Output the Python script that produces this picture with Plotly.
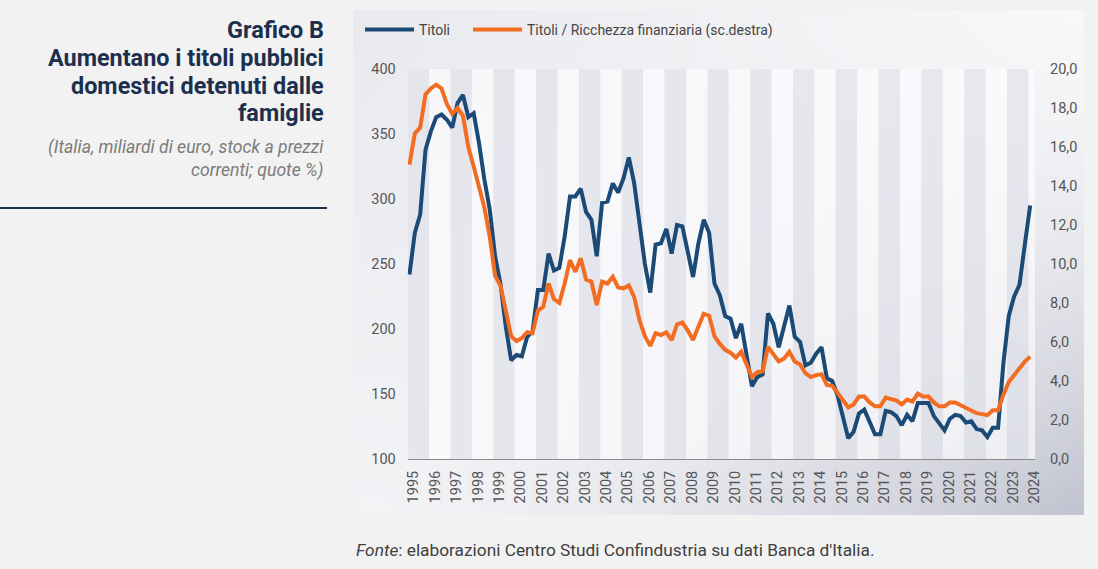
import base64
import struct
import zlib

import plotly.graph_objects as go

# quarterly data, 1995Q1 .. 2024Q1
years = list(range(1995, 2025))

titoli = [242, 274, 288, 338, 352, 363, 365, 361, 355, 374, 380, 363, 366, 343, 315, 292,
          256, 235, 202, 176, 180, 179, 194, 198, 230, 230, 258, 245, 247, 271, 302, 302,
          308, 290, 284, 256, 297, 298, 312, 305, 316, 332, 312, 281, 250, 228, 265, 266,
          277, 258, 280, 279, 260, 240, 266, 284, 274, 235, 226, 210, 208, 193, 204, 181,
          156, 163, 165, 212, 204, 186, 202, 218, 194, 190, 172, 174, 181, 186, 162, 160,
          149, 133, 116, 121, 135, 138, 128, 119, 119, 137, 136, 133, 126, 134, 129, 143,
          143, 143, 133, 128, 122, 131, 134, 133, 128, 129, 123, 122, 117, 124, 124, 174,
          210, 225, 234, 265, 295]

quota = [15.1, 16.7, 17.0, 18.7, 19.0, 19.2, 19.0, 18.2, 17.7, 18.0, 17.6, 16.0, 15.0, 14.0, 12.9, 11.4,
         9.4, 8.9, 7.7, 6.3, 6.05, 6.2, 6.5, 6.45, 7.6, 7.8, 9.0, 8.2, 8.0, 9.0, 10.2, 9.6,
         10.3, 9.2, 9.1, 7.9, 9.1, 9.0, 9.35, 8.8, 8.75, 8.9, 8.3, 7.1, 6.3, 5.8, 6.45, 6.36,
         6.5, 6.1, 6.9, 7.0, 6.6, 6.1, 6.8, 7.45, 7.35, 6.3, 5.9, 5.6, 5.45, 5.2, 5.5, 4.8,
         4.2, 4.45, 4.5, 5.75, 5.35, 5.0, 5.15, 5.5, 5.0, 4.85, 4.4, 4.2, 4.3, 4.35, 3.8, 3.75,
         3.4, 3.0, 2.65, 2.8, 3.2, 3.2, 2.9, 2.7, 2.7, 3.15, 3.05, 3.0, 2.8, 3.05, 2.95, 3.35,
         3.2, 3.2, 2.9, 2.7, 2.7, 2.9, 2.9, 2.75, 2.6, 2.5, 2.35, 2.3, 2.25, 2.5, 2.5, 3.3,
         3.95, 4.3, 4.65, 5.0, 5.25]

quarters = list(range(len(titoli)))

W, H = 1098, 569
BLUE = "#1b4a76"
ORANGE = "#f26c22"
NAVY = "#1b2f4e"


def px_x(p):
    return p / W


def px_y(p):
    return 1 - p / H


def gradient_png(w, h):
    # light panel that darkens towards the bottom-right corner
    tl, tr, bl = (233, 234, 238), (248, 248, 250), (243, 243, 246)
    dark = (52, 50, 40)
    raw = b""
    for j in range(h):
        v = j / (h - 1)
        row = bytearray([0])
        for i in range(w):
            u = i / (w - 1)
            k = (u * v) ** 1.6
            for c in range(3):
                base = tl[c] * (1 - u) * (1 - v) + tr[c] * u * (1 - v) + bl[c] * (1 - u) * v \
                    + (tr[c] + bl[c]) / 2 * u * v
                row.append(max(0, min(255, int(round(base - dark[c] * k)))))
        raw += bytes(row)

    def chunk(tag, data):
        return struct.pack(">I", len(data)) + tag + data + struct.pack(">I", zlib.crc32(tag + data) & 0xffffffff)

    png = b"\x89PNG\r\n\x1a\n" + chunk(b"IHDR", struct.pack(">IIBBBBB", w, h, 8, 2, 0, 0, 0)) \
        + chunk(b"IDAT", zlib.compress(raw)) + chunk(b"IEND", b"")
    return "data:image/png;base64," + base64.b64encode(png).decode()


fig = go.Figure()
fig.add_trace(go.Scatter(x=quarters, y=titoli, name="Titoli", mode="lines",
                         line=dict(color=BLUE, width=4), legend="legend"))
fig.add_trace(go.Scatter(x=quarters, y=quota, name="Titoli / Ricchezza finanziaria (sc.destra)",
                         mode="lines", line=dict(color=ORANGE, width=4), yaxis="y2", legend="legend2"))

# alternating yearly bands
shapes = []
for n, yr in enumerate(years):
    x0 = 4 * n - 0.33
    x1 = 4 * n + 3.67
    col = "rgba(226,227,234,0.72)" if n % 2 == 0 else "rgba(252,252,253,0.68)"
    shapes.append(dict(type="rect", xref="x", yref="y", x0=max(x0, -0.33), x1=min(x1, 116.9),
                       y0=100, y1=400, fillcolor=col, line=dict(width=0), layer="below"))
shapes.append(dict(type="line", xref="paper", yref="paper", x0=0, x1=px_x(327),
                   y0=px_y(208), y1=px_y(208), line=dict(color=NAVY, width=2)))

annotations = []
title_lines = ["Grafico B", "Aumentano i titoli pubblici", "domestici detenuti dalle", "famiglie"]
for line, ypos in zip(title_lines, [30, 58, 86, 113]):
    annotations.append(dict(text="<b>" + line + "</b>", x=px_x(326), y=px_y(ypos), xref="paper", yref="paper",
                            xanchor="right", yanchor="middle", showarrow=False,
                            font=dict(family="Roboto", size=23.4, color=NAVY)))
for line, ypos in zip(["(Italia, miliardi di euro, stock a prezzi", "correnti; quote %)"], [147, 170]):
    annotations.append(dict(text="<i>" + line + "</i>", x=px_x(326), y=px_y(ypos), xref="paper", yref="paper",
                            xanchor="right", yanchor="middle", showarrow=False,
                            font=dict(family="Roboto", size=17.6, color="#7b7b7b")))
annotations.append(dict(text="<i>Fonte</i>: elaborazioni Centro Studi Confindustria su dati Banca d'Italia.",
                        x=px_x(354), y=px_y(550), xref="paper", yref="paper", xanchor="left",
                        yanchor="middle", showarrow=False,
                        font=dict(family="Roboto", size=17.3, color="#404040")))

tick_font = dict(family="Roboto", size=14.5, color="#555555")
legend_style = dict(orientation="h", xanchor="left", yanchor="top", y=px_y(14),
                    bgcolor="rgba(0,0,0,0)", font=dict(family="Roboto", size=14, color="#444444"),
                    itemwidth=49)

fig.update_layout(
    width=W, height=H,
    margin=dict(l=0, r=0, t=0, b=0),
    paper_bgcolor="#f2f2f2",
    plot_bgcolor="rgba(0,0,0,0)",
    separators=", ",
    showlegend=True,
    legend=dict(x=px_x(360), **legend_style),
    legend2=dict(x=px_x(468), **legend_style),
    xaxis=dict(domain=[px_x(407.7), px_x(1035)], range=[-0.33, 116.9],
               tickmode="array", tickvals=[4 * n + 0.8 for n in range(len(years))],
               ticktext=[str(y) for y in years], tickangle=-90, tickfont=tick_font,
               showgrid=False, zeroline=False, showline=True, linecolor="#8a8a8a", linewidth=1,
               ticks="", ticklabelstandoff=5, automargin=False),
    yaxis=dict(domain=[px_y(459), px_y(69)], range=[100, 400], tickmode="array",
               tickvals=list(range(100, 401, 50)), tickfont=tick_font, showgrid=False,
               zeroline=False, showline=False, ticks="", ticklabelstandoff=11, automargin=False),
    yaxis2=dict(overlaying="y", side="right", range=[0, 20], tickmode="array",
                tickvals=list(range(0, 21, 2)), tickformat=".1f", tickfont=tick_font,
                showgrid=False, zeroline=False, showline=False, ticks="",
                ticklabelstandoff=14, automargin=False),
    shapes=shapes,
    annotations=annotations,
    images=[dict(source=gradient_png(80, 56), xref="paper", yref="paper",
                 x=px_x(353), y=px_y(10), sizex=(1084 - 353) / W, sizey=(515 - 10) / H,
                 xanchor="left", yanchor="top", sizing="stretch", layer="below")],
)

# the page's default 8px body margin would push the figure off the window
fig.write_html("out.html", config={"displayModeBar": False},
               post_script="document.body.style.margin='0px';")
